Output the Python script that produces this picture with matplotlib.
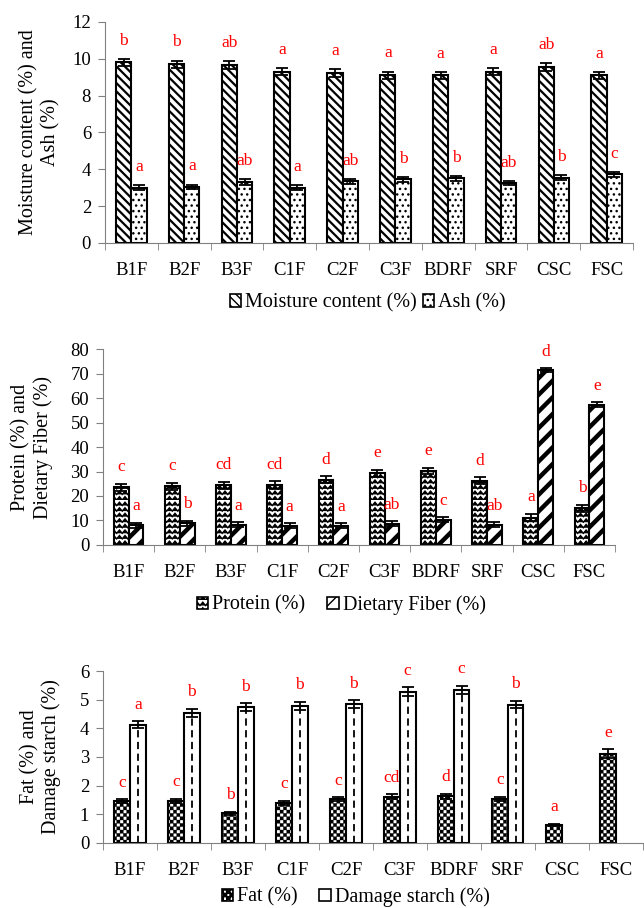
import warnings
import numpy as np
import matplotlib
matplotlib.use("Agg")
import matplotlib.pyplot as plt
from matplotlib import hatch as mhatch
from matplotlib.patches import Patch
from matplotlib.path import Path

warnings.filterwarnings("ignore")

samples = ["B1F", "B2F", "B3F", "C1F", "C2F", "C3F", "BDRF", "SRF", "CSC", "FSC"]

# panel 1
moisture = [9.8, 9.7, 9.65, 9.3, 9.2, 9.1, 9.1, 9.3, 9.55, 9.1]
moisture_err = [0.2, 0.2, 0.22, 0.2, 0.22, 0.2, 0.18, 0.2, 0.2, 0.18]
moisture_sig = ["b", "b", "ab", "a", "a", "a", "a", "a", "ab", "a"]
ash = [3.0, 3.05, 3.3, 3.0, 3.35, 3.45, 3.5, 3.25, 3.55, 3.72]
ash_err = [0.12, 0.12, 0.15, 0.12, 0.13, 0.13, 0.13, 0.12, 0.15, 0.15]
ash_sig = ["a", "a", "ab", "a", "ab", "b", "b", "ab", "b", "c"]

# panel 2
protein = [23.5, 24.0, 24.3, 24.5, 26.6, 29.2, 30.2, 26.2, 11.2, 15.0]
protein_err = [1.5, 1.5, 1.4, 1.5, 1.4, 1.5, 1.3, 1.5, 1.6, 1.5]
protein_sig = ["c", "c", "cd", "cd", "d", "e", "e", "d", "a", "b"]
fiber = [8.0, 8.8, 8.3, 7.8, 7.8, 8.7, 10.3, 8.2, 71.3, 57.3]
fiber_err = [1.0, 1.0, 1.0, 1.0, 1.0, 1.0, 1.0, 1.0, 0.8, 0.9]
fiber_sig = ["a", "b", "a", "a", "a", "ab", "c", "ab", "d", "e"]

# panel 3
fat = [1.45, 1.48, 1.03, 1.4, 1.52, 1.62, 1.63, 1.55, 0.63, 3.12]
fat_err = [0.07, 0.07, 0.05, 0.07, 0.07, 0.08, 0.08, 0.07, 0.04, 0.15]
fat_sig = ["c", "c", "b", "c", "c", "cd", "d", "c", "a", "e"]
starch = [4.12, 4.55, 4.73, 4.79, 4.84, 5.28, 5.34, 4.83, np.nan, np.nan]
starch_err = [0.12, 0.14, 0.14, 0.14, 0.14, 0.15, 0.15, 0.13, np.nan, np.nan]
starch_sig = ["a", "b", "b", "b", "b", "c", "c", "b", "", ""]


# chevron rows for the protein bars ('z')
class ZigZagHatch(mhatch.HatchPatternBase):
    def __init__(self, hatch, density):
        self.num_rows = int(hatch.count("z") * density)
        self.npts = 2 * self.num_rows + 1
        self.num_vertices = self.num_rows * self.npts

    def set_vertices_and_codes(self, vertices, codes):
        step = 1.0 / self.num_rows
        n = self.npts
        xs = np.linspace(0, 1, n)
        yoff = np.where(np.arange(n) % 2 == 0, 0.0, 0.6 * step)
        for i in range(self.num_rows):
            vertices[i * n:(i + 1) * n, 0] = xs
            vertices[i * n:(i + 1) * n, 1] = i * step + yoff
            codes[i * n:(i + 1) * n] = Path.LINETO
            codes[i * n] = Path.MOVETO


# checkerboard for the fat bars ('c'), squares get filled by the hatch renderer
class CheckerHatch(mhatch.HatchPatternBase):
    def __init__(self, hatch, density):
        self.n = int(hatch.count("c") * density)
        self.cells = [(i, j) for i in range(self.n) for j in range(self.n) if (i + j) % 2 == 0]
        self.num_vertices = 5 * len(self.cells) if self.n else 0

    def set_vertices_and_codes(self, vertices, codes):
        s = 1.0 / self.n
        for k, (i, j) in enumerate(self.cells):
            x0, y0 = i * s, j * s
            vertices[5 * k:5 * k + 5] = [(x0, y0), (x0 + s, y0), (x0 + s, y0 + s),
                                         (x0, y0 + s), (x0, y0)]
            codes[5 * k:5 * k + 5] = [Path.MOVETO, Path.LINETO, Path.LINETO,
                                      Path.LINETO, Path.CLOSEPOLY]


mhatch._hatch_types.append(ZigZagHatch)
mhatch._hatch_types.append(CheckerHatch)

plt.rcParams["font.family"] = ["Liberation Serif", "DejaVu Serif"]

RED = "#ff0000"
x = np.arange(len(samples))
w = 0.29


def hatched_bars(ax, xpos, vals, hatch, hlw):
    bars = ax.bar(xpos, vals, w, color="white", edgecolor="black",
                  linewidth=1.5, hatch=hatch, zorder=2)
    for b in bars:
        if hasattr(b, "set_hatch_linewidth"):
            b.set_hatch_linewidth(hlw)
    return bars


def panel(ax, vals1, err1, sig1, st1, vals2, err2, sig2, st2, ymax, ystep,
          ylabel, labx, pad):
    with plt.rc_context({"hatch.linewidth": st1[1]}):
        hatched_bars(ax, x - w / 2, vals1, *st1)
    with plt.rc_context({"hatch.linewidth": st2[1]}):
        hatched_bars(ax, x + w / 2, vals2, *st2)
    for xs, v, e in [(x - w / 2, vals1, err1), (x + w / 2, vals2, err2)]:
        ax.errorbar(xs, v, yerr=e, fmt="none", ecolor="black", elinewidth=1.3,
                    capsize=4, capthick=1.3, zorder=3)
    for xs, v, e, s in [(x - w / 2, vals1, err1, sig1), (x + w / 2, vals2, err2, sig2)]:
        for xi, vi, ei, si in zip(xs, v, e, s):
            if si:
                ax.text(xi, vi + ei + pad, si, color=RED, ha="center",
                        va="bottom", fontsize=12.5)
    ax.set_xlim(-0.5, len(samples) - 0.5)
    ax.set_ylim(0, ymax)
    ax.set_yticks(np.arange(0, ymax + ystep / 2, ystep))
    ax.set_xticks(x)
    ax.set_xticklabels(samples)
    ax.set_xticks(np.arange(len(samples) + 1) - 0.5, minor=True)
    ax.tick_params(axis="x", which="major", length=0, pad=14, labelsize=13.5)
    ax.tick_params(axis="x", which="minor", length=5, color="#808080")
    ax.tick_params(axis="y", length=5, pad=5, labelsize=13.5, color="#808080")
    for s in ["top", "right"]:
        ax.spines[s].set_visible(False)
    ax.spines["bottom"].set_color("#808080")
    ax.spines["left"].set_color("#808080")
    ax.set_ylabel(ylabel, fontsize=14.5, linespacing=1.15)
    ax.yaxis.set_label_coords(labx, 0.5)


fig = plt.figure(figsize=(6.44, 9.08), dpi=100)

ax1 = fig.add_axes([0.163, 0.7324, 0.82, 0.2436])
st_moist = ("\\\\\\\\", 1.6)
st_ash = ("...", 1.0)
panel(ax1, moisture, moisture_err, moisture_sig, st_moist,
      ash, ash_err, ash_sig, st_ash, 12, 2,
      "Moisture content (%) and\nAsh (%)", -0.085, 0.55)

ax2 = fig.add_axes([0.16, 0.3998, 0.795, 0.2158])
st_prot = ("zzz", 1.0)
st_fib = ("//", 3.2)
panel(ax2, protein, protein_err, protein_sig, st_prot,
      fiber, fiber_err, fiber_sig, st_fib, 80, 10,
      "Protein (%) and\nDietary Fiber (%)", -0.098, 3.5)

ax3 = fig.add_axes([0.16, 0.0716, 0.838, 0.1894])
st_fat = ("ccccc", 0.2)
st_starch = (None, 1.0)
panel(ax3, fat, fat_err, fat_sig, st_fat,
      starch, starch_err, starch_sig, st_starch, 6, 1,
      "Fat (%) and\nDamage starch (%)", -0.078, 0.3)
# dashed centre line inside the damage starch bars
ax3.vlines(x + w / 2, 0, np.array(starch) - 0.05, colors="black",
           linestyles=(0, (4, 2.5)), linewidth=1.3, zorder=2.5)


def legend(ax, labels, styles, cx, cy, colsp):
    handles = []
    for lab, (h, lw) in zip(labels, styles):
        with plt.rc_context({"hatch.linewidth": min(lw, 1.5)}):
            handles.append(Patch(facecolor="white", edgecolor="black",
                                 hatch=h, linewidth=1.2, label=lab))
    ax.legend(handles=handles, loc="center", bbox_to_anchor=(cx, cy),
              bbox_transform=fig.transFigure, ncol=2, frameon=False,
              fontsize=14.5, handlelength=0.55, handleheight=0.55,
              handletextpad=0.2, columnspacing=colsp, borderaxespad=0)


legend(ax1, ["Moisture content (%)", "Ash (%)"], [st_moist, st_ash],
       0.571, 1 - 303 / 908, 0.3)
legend(ax2, ["Protein (%)", "Dietary Fiber (%)"], [st_prot, st_fib],
       0.53, 1 - 605 / 908, 1.1)
legend(ax3, ["Fat (%)", "Damage starch (%)"], [st_fat, st_starch],
       0.552, 1 - 897 / 908, 1.1)

fig.savefig("out.png", dpi=100)
